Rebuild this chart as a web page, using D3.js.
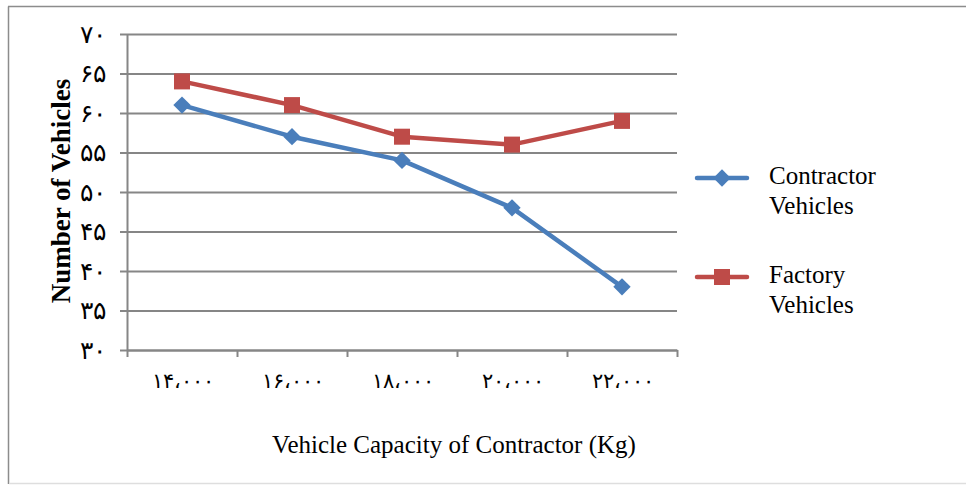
<!DOCTYPE html>
<html>
<head>
  <meta charset="utf-8">
  <style>
    body {
      margin: 0px;
      padding: 0px;
      background: #fff;
    }
    text {
      font-family: "Liberation Serif", "DejaVu Sans", serif;
    }
  </style>
</head>
<body>
  <div id="chart"></div>
  <script src="https://d3js.org/d3.v7.min.js"></script>
  <script>
    // capacities on the x axis (Persian digits as in the original)
    var categories = ['۱۴،۰۰۰', '۱۶،۰۰۰', '۱۸،۰۰۰', '۲۰،۰۰۰', '۲۲،۰۰۰'];
    var contractor = [61, 57, 54, 48, 38];
    var factory = [64, 61, 57, 56, 59];
    var yTicks = [30, 35, 40, 45, 50, 55, 60, 65, 70];
    var yTickLabels = ['۳۰', '۳۵', '۴۰', '۴۵', '۵۰', '۵۵', '۶۰', '۶۵', '۷۰'];

    var width = 966, height = 485;
    var plotLeft = 127, plotRight = 677, plotTop = 34, plotBottom = 350;

    var svg = d3.select('#chart').append('svg')
      .attr('width', width)
      .attr('height', height);

    // outer frame
    svg.append('line').attr('x1', 8.5).attr('y1', 6.5).attr('x2', 8.5).attr('y2', 484)
      .attr('stroke', '#8c8c8c').attr('stroke-width', 1.5);
    svg.append('line').attr('x1', 8).attr('y1', 6.5).attr('x2', 966).attr('y2', 6.5)
      .attr('stroke', '#8c8c8c').attr('stroke-width', 1.5);
    svg.append('line').attr('x1', 9).attr('y1', 483.5).attr('x2', 966).attr('y2', 483.5)
      .attr('stroke', '#dedede').attr('stroke-width', 1.5);

    var x = d3.scalePoint()
      .domain(categories)
      .range([plotLeft, plotRight])
      .padding(0.5);
    var xEdge = d3.scaleLinear()
      .domain([0, categories.length])
      .range([plotLeft, plotRight]);
    var y = d3.scaleLinear()
      .domain([30, 70])
      .range([plotBottom, plotTop]);

    // gridlines
    var grid = svg.append('g')
      .attr('transform', 'translate(' + plotLeft + ',0)')
      .call(d3.axisLeft(y).tickValues(yTicks).tickSize(-(plotRight - plotLeft)).tickFormat(''));
    grid.select('.domain').remove();
    grid.selectAll('line').attr('stroke', '#868686').attr('stroke-width', 2);

    // y axis
    var yAxis = svg.append('g')
      .attr('transform', 'translate(' + plotLeft + ',0)')
      .call(d3.axisLeft(y).tickValues(yTicks).tickSize(7).tickSizeOuter(0).tickPadding(14)
        .tickFormat(function(d, i) { return yTickLabels[i]; }));
    yAxis.select('.domain').attr('stroke', '#868686').attr('stroke-width', 2);
    yAxis.selectAll('line').attr('stroke', '#868686').attr('stroke-width', 2);
    yAxis.selectAll('text')
      .style('font-family', '"DejaVu Sans", sans-serif')
      .style('font-size', '25px')
      .style('font-weight', '300')
      .attr('fill', '#000');

    // x axis, ticks between categories
    var xAxis = svg.append('g')
      .attr('transform', 'translate(0,' + plotBottom + ')')
      .call(d3.axisBottom(xEdge).ticks(categories.length).tickSize(7).tickSizeOuter(0).tickFormat(''));
    xAxis.select('.domain').attr('stroke', '#868686').attr('stroke-width', 2);
    xAxis.selectAll('line').attr('stroke', '#868686').attr('stroke-width', 2);

    var xLabels = svg.append('g')
      .attr('transform', 'translate(0,' + plotBottom + ')')
      .call(d3.axisBottom(x).tickSize(0).tickPadding(23));
    xLabels.select('.domain').remove();
    xLabels.selectAll('text')
      .style('font-family', '"DejaVu Sans", sans-serif')
      .style('font-size', '21px')
      .style('font-weight', '300')
      .attr('fill', '#000');

    // axis titles
    svg.append('text')
      .attr('x', 454)
      .attr('y', 453)
      .attr('text-anchor', 'middle')
      .style('font-size', '25px')
      .text('Vehicle Capacity of Contractor (Kg)');
    svg.append('text')
      .attr('transform', 'translate(70,191) rotate(-90)')
      .attr('text-anchor', 'middle')
      .style('font-size', '27px')
      .style('font-weight', 'bold')
      .text('Number of Vehicles');

    var series = [
      {name: ['Contractor', 'Vehicles'], values: contractor, color: '#4a7ebb', symbol: 'diamond'},
      {name: ['Factory', 'Vehicles'], values: factory, color: '#be4b48', symbol: 'square'}
    ];

    var line = d3.line()
      .x(function(d, i) { return x(categories[i]); })
      .y(function(d) { return y(d); });

    function marker(g, s) {
      if (s.symbol === 'diamond') {
        g.append('path')
          .attr('d', d3.symbol().type(d3.symbolSquare).size(150))
          .attr('transform', 'rotate(45)')
          .attr('fill', s.color);
      } else {
        g.append('rect')
          .attr('x', -8).attr('y', -8)
          .attr('width', 16).attr('height', 16)
          .attr('fill', s.color);
      }
    }

    series.forEach(function(s) {
      svg.append('path')
        .datum(s.values)
        .attr('d', line)
        .attr('fill', 'none')
        .attr('stroke', s.color)
        .attr('stroke-width', 4.5)
        .attr('stroke-linejoin', 'round');
      s.values.forEach(function(v, i) {
        var g = svg.append('g')
          .attr('transform', 'translate(' + x(categories[i]) + ',' + y(v) + ')');
        marker(g, s);
      });
    });

    // legend
    var legendY = [178, 277];
    series.forEach(function(s, i) {
      var g = svg.append('g').attr('transform', 'translate(0,' + legendY[i] + ')');
      g.append('line')
        .attr('x1', 697).attr('x2', 747)
        .attr('stroke', s.color)
        .attr('stroke-width', 4.5)
        .attr('stroke-linecap', 'round');
      var m = g.append('g').attr('transform', 'translate(722,0)');
      marker(m, s);
      var t = g.append('text')
        .attr('x', 769)
        .attr('y', 6)
        .style('font-size', '25px');
      t.append('tspan').attr('x', 769).attr('dy', 0).text(s.name[0]);
      t.append('tspan').attr('x', 769).attr('dy', 30).text(s.name[1]);
    });
  </script>
</body>
</html>
